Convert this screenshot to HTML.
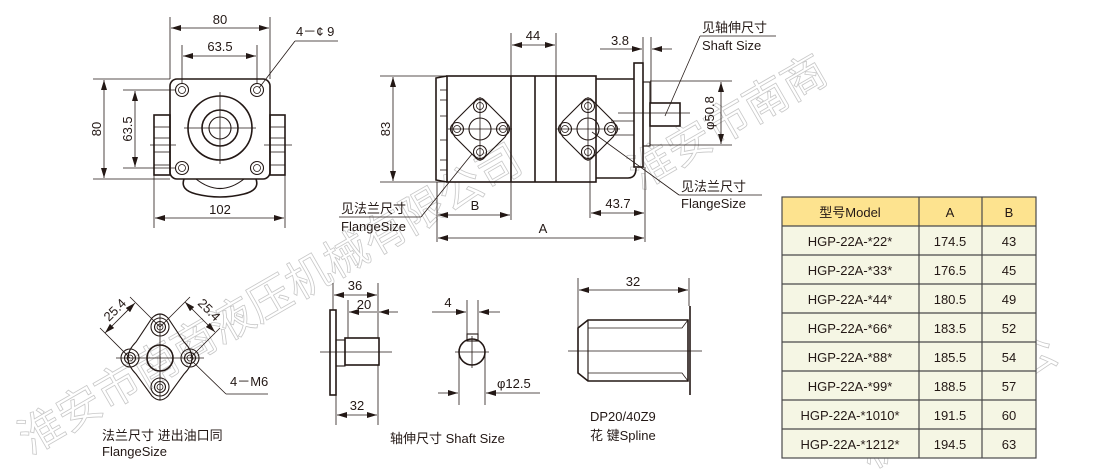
<!DOCTYPE html>
<html><head><meta charset="utf-8"><style>
html,body{margin:0;padding:0;background:#fff;}
svg{display:block;}
text{font-family:"Liberation Sans","Noto Sans CJK SC",sans-serif;fill:#231815;}
.l{stroke:#231815;stroke-width:1.6;fill:none;}
.t{stroke:#231815;stroke-width:0.8;fill:none;}
.th{stroke:#231815;stroke-width:1.1;fill:none;}
.wm{fill:none;stroke:#c8c8c8;stroke-width:0.8;}
</style></head><body>
<svg width="1111" height="471" viewBox="0 0 1111 471" xmlns="http://www.w3.org/2000/svg">
<defs>
<marker id="a" viewBox="0 0 10 6" refX="10" refY="3" markerWidth="10" markerHeight="6" orient="auto-start-reverse" markerUnits="userSpaceOnUse"><path d="M0,0 L10,3 L0,6 z" fill="#231815"/></marker>
<g id="hole"><circle r="6.5" class="th"/><circle r="3.5" class="t"/></g>
<g id="dia">
<path d="M-5,-28 Q0,-34 5,-28 L25,-8 Q31,0 25,8 L5,28 Q0,34 -5,28 L-25,8 Q-31,0 -25,-8 Z" class="th"/>
<use href="#hole" x="0" y="-23"/><use href="#hole" x="-23" y="0"/><use href="#hole" x="23" y="0"/><use href="#hole" x="0" y="23"/>
<circle r="11" class="th"/>
<line x1="-32" y1="0" x2="32" y2="0" class="t"/><line x1="0" y1="-32" x2="0" y2="32" class="t"/>
</g>
</defs>

<!-- watermark -->
<text x="30" y="455" font-size="44" transform="rotate(-30 30 455)" class="wm" style="fill:none">淮安市南商液压机械有限公司</text>
<text x="640" y="190" font-size="44" transform="rotate(-30 640 190)" class="wm" style="fill:none">淮安市南商</text>
<text x="870" y="470" font-size="44" transform="rotate(-30 870 470)" class="wm" style="fill:none">机械有限公</text>

<!-- ===== FRONT VIEW ===== -->
<rect x="170" y="79" width="100" height="100" rx="7" class="l"/>
<rect x="154" y="115" width="16" height="60" class="l"/>
<line x1="154" y1="127" x2="170" y2="127" class="t"/><line x1="154" y1="138" x2="170" y2="138" class="t"/><line x1="154" y1="152" x2="170" y2="152" class="t"/><line x1="154" y1="165" x2="170" y2="165" class="t"/>
<rect x="270" y="115" width="15" height="60" class="l"/>
<line x1="270" y1="127" x2="285" y2="127" class="t"/><line x1="270" y1="138" x2="285" y2="138" class="t"/><line x1="270" y1="152" x2="285" y2="152" class="t"/><line x1="270" y1="165" x2="285" y2="165" class="t"/>
<use href="#hole" x="182" y="90"/><use href="#hole" x="257" y="90"/><use href="#hole" x="182" y="168"/><use href="#hole" x="257" y="168"/>
<circle cx="220" cy="128" r="32" class="l"/><circle cx="220" cy="128" r="18" class="l"/><circle cx="220" cy="128" r="11" class="th"/>
<line x1="184" y1="128" x2="256" y2="128" class="t"/><line x1="220" y1="92" x2="220" y2="164" class="t"/>
<line x1="150" y1="145" x2="176" y2="145" class="t"/><line x1="264" y1="145" x2="292" y2="145" class="t"/>
<path d="M184,179 Q180,190 196,194 Q220,200 244,194 Q260,190 256,179" class="l"/>
<path d="M196,179 Q220,198 244,179" class="th"/>
<!-- dims -->
<line x1="170" y1="17" x2="170" y2="79" class="t"/><line x1="270" y1="17" x2="270" y2="79" class="t"/>
<line x1="171" y1="28" x2="269" y2="28" class="t" marker-start="url(#a)" marker-end="url(#a)"/>
<text x="220" y="24" font-size="13" text-anchor="middle">80</text>
<line x1="182" y1="45" x2="182" y2="84" class="t"/><line x1="257" y1="45" x2="257" y2="84" class="t"/>
<line x1="183" y1="56" x2="256" y2="56" class="t" marker-start="url(#a)" marker-end="url(#a)"/>
<text x="220" y="51" font-size="13" text-anchor="middle">63.5</text>
<line x1="93" y1="79" x2="170" y2="79" class="t"/><line x1="93" y1="179" x2="170" y2="179" class="t"/>
<line x1="104" y1="80" x2="104" y2="178" class="t" marker-start="url(#a)" marker-end="url(#a)"/>
<text x="101" y="129" font-size="13" text-anchor="middle" transform="rotate(-90 101 129)">80</text>
<line x1="123" y1="90" x2="176" y2="90" class="t"/><line x1="123" y1="168" x2="176" y2="168" class="t"/>
<line x1="135" y1="91" x2="135" y2="167" class="t" marker-start="url(#a)" marker-end="url(#a)"/>
<text x="132" y="129" font-size="13" text-anchor="middle" transform="rotate(-90 132 129)">63.5</text>
<line x1="154" y1="175" x2="154" y2="228" class="t"/><line x1="285" y1="175" x2="285" y2="228" class="t"/>
<line x1="155" y1="218" x2="284" y2="218" class="t" marker-start="url(#a)" marker-end="url(#a)"/>
<text x="220" y="214" font-size="13" text-anchor="middle">102</text>
<text x="296" y="36" font-size="13">4－¢ 9</text>
<line x1="295" y1="41" x2="338" y2="41" class="t"/>
<line x1="295" y1="41" x2="259" y2="88" class="t"/>

<!-- ===== SIDE VIEW ===== -->
<path d="M447,76 L436,78 L436,180 L447,182" class="l"/>
<line x1="440" y1="90" x2="447" y2="90" class="t"/><line x1="440" y1="100" x2="447" y2="100" class="t"/><line x1="440" y1="116" x2="447" y2="116" class="t"/><line x1="440" y1="140" x2="447" y2="140" class="t"/><line x1="440" y1="160" x2="447" y2="160" class="t"/><line x1="440" y1="170" x2="447" y2="170" class="t"/>
<rect x="447" y="76" width="149" height="106" class="l"/>
<line x1="511" y1="76" x2="511" y2="182" class="l"/><line x1="535" y1="76" x2="535" y2="182" class="l"/><line x1="556" y1="76" x2="556" y2="182" class="l"/>
<path d="M596,79 L634,79 M596,178 L628,178 Q636,178 636,168" class="l"/>
<rect x="634" y="63" width="9" height="104" class="l"/>
<rect x="643" y="82" width="7" height="64" class="th"/>
<rect x="650" y="103" width="30" height="23" class="l"/>
<line x1="618" y1="113" x2="690" y2="113" class="t"/>
<line x1="611" y1="121" x2="634" y2="121" class="t"/><line x1="611" y1="135" x2="634" y2="135" class="t"/>
<use href="#dia" x="480" y="129"/><use href="#dia" x="588" y="129"/>
<!-- side dims -->
<line x1="380" y1="76" x2="447" y2="76" class="t"/><line x1="380" y1="182" x2="447" y2="182" class="t"/>
<line x1="393" y1="77" x2="393" y2="181" class="t" marker-start="url(#a)" marker-end="url(#a)"/>
<text x="390" y="129" font-size="13" text-anchor="middle" transform="rotate(-90 390 129)">83</text>
<line x1="511" y1="33" x2="511" y2="76" class="t"/><line x1="556" y1="33" x2="556" y2="76" class="t"/>
<line x1="512" y1="45" x2="555" y2="45" class="t" marker-start="url(#a)" marker-end="url(#a)"/>
<text x="533" y="40" font-size="13" text-anchor="middle">44</text>
<line x1="643" y1="37" x2="643" y2="63" class="t"/><line x1="651" y1="37" x2="651" y2="103" class="t"/>
<line x1="600" y1="49" x2="642" y2="49" class="t" marker-end="url(#a)"/><line x1="672" y1="49" x2="652" y2="49" class="t" marker-end="url(#a)"/>
<text x="620" y="45" font-size="13" text-anchor="middle">3.8</text>
<line x1="650" y1="81" x2="732" y2="81" class="t"/><line x1="650" y1="145" x2="732" y2="145" class="t"/>
<line x1="721" y1="82" x2="721" y2="144" class="t" marker-start="url(#a)" marker-end="url(#a)"/>
<text x="714" y="113" font-size="13" text-anchor="middle" transform="rotate(-90 714 113)">φ50.8</text>
<line x1="437" y1="182" x2="437" y2="242" class="t"/><line x1="645" y1="167" x2="645" y2="242" class="t"/>
<line x1="511" y1="182" x2="511" y2="220" class="t"/><line x1="590" y1="160" x2="590" y2="218" class="t"/>
<line x1="438" y1="215" x2="510" y2="215" class="t" marker-start="url(#a)" marker-end="url(#a)"/>
<text x="475" y="210" font-size="13" text-anchor="middle">B</text>
<line x1="591" y1="213" x2="644" y2="213" class="t" marker-start="url(#a)" marker-end="url(#a)"/>
<text x="618" y="208" font-size="13" text-anchor="middle">43.7</text>
<line x1="438" y1="238" x2="644" y2="238" class="t" marker-start="url(#a)" marker-end="url(#a)"/>
<text x="543" y="233" font-size="13" text-anchor="middle">A</text>
<!-- side labels -->
<text x="341" y="213" font-size="13">见法兰尺寸</text>
<line x1="339" y1="217" x2="421" y2="217" class="t"/>
<text x="341" y="231" font-size="13">FlangeSize</text>
<line x1="421" y1="217" x2="472" y2="154" class="t"/>
<text x="681" y="191" font-size="13">见法兰尺寸</text>
<line x1="679" y1="195" x2="762" y2="195" class="t"/>
<text x="681" y="208" font-size="13">FlangeSize</text>
<line x1="679" y1="195" x2="592" y2="132" class="t"/>
<text x="702" y="32" font-size="13">见轴伸尺寸</text>
<line x1="700" y1="36" x2="776" y2="36" class="t"/>
<text x="702" y="50" font-size="13">Shaft Size</text>
<line x1="700" y1="36" x2="665" y2="116" class="t"/>

<!-- ===== FLANGE DETAIL ===== -->
<g>
<path d="M152,318 Q160,310 168,318 L184,342 Q200,358 184,374 L168,396 Q160,404 152,396 L136,374 Q120,358 136,342 Z" class="th"/>
<g transform="translate(160,327)"><circle r="9" class="th"/><circle r="5.5" class="th"/><circle r="3" class="t"/></g>
<g transform="translate(130,358)"><circle r="9" class="th"/><circle r="5.5" class="th"/><circle r="3" class="t"/></g>
<g transform="translate(190,358)"><circle r="9" class="th"/><circle r="5.5" class="th"/><circle r="3" class="t"/></g>
<g transform="translate(160,387)"><circle r="9" class="th"/><circle r="5.5" class="th"/><circle r="3" class="t"/></g>
<circle cx="160" cy="358" r="13" class="l"/>
<line x1="116" y1="358" x2="204" y2="358" class="t"/><line x1="160" y1="314" x2="160" y2="400" class="t"/>
<line x1="160" y1="327" x2="130" y2="297" class="t"/><line x1="130" y1="358" x2="100" y2="328" class="t"/>
<line x1="105" y1="333" x2="135" y2="303" class="t" marker-start="url(#a)" marker-end="url(#a)"/>
<text x="118" y="313" font-size="13" text-anchor="middle" transform="rotate(-45 118 313)">25.4</text>
<line x1="160" y1="327" x2="190" y2="297" class="t"/><line x1="190" y1="358" x2="220" y2="328" class="t"/>
<line x1="185" y1="302" x2="215" y2="332" class="t" marker-start="url(#a)" marker-end="url(#a)"/>
<text x="206" y="313" font-size="13" text-anchor="middle" transform="rotate(45 206 313)">25.4</text>
<text x="230" y="386" font-size="13">4－M6</text>
<line x1="226" y1="394" x2="268" y2="394" class="t"/>
<line x1="226" y1="394" x2="193" y2="362" class="t"/>
<text x="102" y="440" font-size="13">法兰尺寸 进出油口同</text>
<text x="102" y="456" font-size="13">FlangeSize</text>
</g>

<!-- ===== SHAFT SIDE ===== -->
<rect x="330" y="310" width="6" height="85" class="l"/>
<rect x="336" y="340" width="9" height="26" class="th"/>
<rect x="345" y="338" width="34" height="27" class="l"/>
<line x1="320" y1="352" x2="392" y2="352" class="t"/>
<line x1="333" y1="283" x2="333" y2="310" class="t"/><line x1="378" y1="283" x2="378" y2="338" class="t"/>
<line x1="334" y1="295" x2="377" y2="295" class="t" marker-start="url(#a)" marker-end="url(#a)"/>
<text x="355" y="290" font-size="13" text-anchor="middle">36</text>
<line x1="348" y1="300" x2="348" y2="338" class="t"/>
<line x1="349" y1="312" x2="377" y2="312" class="t" marker-start="url(#a)"/><line x1="398" y1="312" x2="379" y2="312" class="t" marker-end="url(#a)"/>
<text x="364" y="309" font-size="13" text-anchor="middle">20</text>
<line x1="336" y1="395" x2="336" y2="425" class="t"/><line x1="378" y1="365" x2="378" y2="425" class="t"/>
<line x1="337" y1="415" x2="377" y2="415" class="t" marker-start="url(#a)" marker-end="url(#a)"/>
<text x="357" y="410" font-size="13" text-anchor="middle">32</text>

<!-- ===== SHAFT SECTION ===== -->
<circle cx="472" cy="352" r="13" class="l"/>
<rect x="467" y="334" width="11" height="7" class="th"/>
<line x1="455" y1="352" x2="489" y2="352" class="t"/><line x1="472" y1="336" x2="472" y2="368" class="t"/>
<line x1="467" y1="300" x2="467" y2="334" class="t"/><line x1="478" y1="300" x2="478" y2="334" class="t"/>
<line x1="432" y1="312" x2="466" y2="312" class="t" marker-end="url(#a)"/><line x1="500" y1="312" x2="479" y2="312" class="t" marker-end="url(#a)"/>
<text x="448" y="307" font-size="13" text-anchor="middle">4</text>
<line x1="459" y1="352" x2="459" y2="405" class="t"/><line x1="485" y1="352" x2="485" y2="405" class="t"/>
<line x1="438" y1="393" x2="458" y2="393" class="t" marker-end="url(#a)"/><line x1="540" y1="393" x2="486" y2="393" class="t" marker-end="url(#a)"/>
<text x="497" y="388" font-size="13">φ12.5</text>
<text x="390" y="443" font-size="13">轴伸尺寸 Shaft Size</text>

<!-- ===== SPLINE ===== -->
<path d="M588,320 L688,320 L688,381 L588,381 L578,373 L578,328 Z" class="l"/>
<line x1="588" y1="320" x2="588" y2="381" class="th"/>
<path d="M588,328 L682,328 L688,320 M588,373 L682,373 L688,381" class="t"/>
<line x1="690" y1="306" x2="690" y2="395" class="l"/>
<line x1="568" y1="351" x2="702" y2="351" class="t"/>
<line x1="578" y1="278" x2="578" y2="328" class="t"/><line x1="689" y1="278" x2="689" y2="306" class="t"/>
<line x1="579" y1="290" x2="688" y2="290" class="t" marker-start="url(#a)" marker-end="url(#a)"/>
<text x="633" y="286" font-size="13" text-anchor="middle">32</text>
<text x="590" y="421" font-size="13">DP20/40Z9</text>
<text x="590" y="440" font-size="13">花 键Spline</text>

<!-- ===== TABLE ===== -->
<rect x="782" y="197" width="254" height="29" fill="#fde38f"/>
<rect x="782" y="226" width="254" height="232" fill="#f5f6e4"/>
<g stroke="#4a4a4a" stroke-width="1.2" fill="none">
<rect x="782" y="197" width="254" height="261"/>
<line x1="919" y1="197" x2="919" y2="458"/><line x1="982" y1="197" x2="982" y2="458"/>
<line x1="782" y1="226" x2="1036" y2="226"/><line x1="782" y1="255" x2="1036" y2="255"/><line x1="782" y1="284" x2="1036" y2="284"/><line x1="782" y1="313" x2="1036" y2="313"/><line x1="782" y1="342" x2="1036" y2="342"/><line x1="782" y1="371" x2="1036" y2="371"/><line x1="782" y1="400" x2="1036" y2="400"/><line x1="782" y1="429" x2="1036" y2="429"/>
</g>
<g font-size="13" text-anchor="middle">
<text x="850" y="217">型号Model</text><text x="950" y="217">A</text><text x="1009" y="217">B</text>
<text x="850" y="246">HGP-22A-*22*</text><text x="950" y="246">174.5</text><text x="1009" y="246">43</text>
<text x="850" y="275">HGP-22A-*33*</text><text x="950" y="275">176.5</text><text x="1009" y="275">45</text>
<text x="850" y="304">HGP-22A-*44*</text><text x="950" y="304">180.5</text><text x="1009" y="304">49</text>
<text x="850" y="333">HGP-22A-*66*</text><text x="950" y="333">183.5</text><text x="1009" y="333">52</text>
<text x="850" y="362">HGP-22A-*88*</text><text x="950" y="362">185.5</text><text x="1009" y="362">54</text>
<text x="850" y="391">HGP-22A-*99*</text><text x="950" y="391">188.5</text><text x="1009" y="391">57</text>
<text x="850" y="420">HGP-22A-*1010*</text><text x="950" y="420">191.5</text><text x="1009" y="420">60</text>
<text x="850" y="449">HGP-22A-*1212*</text><text x="950" y="449">194.5</text><text x="1009" y="449">63</text>
</g>
</svg>
</body></html>
